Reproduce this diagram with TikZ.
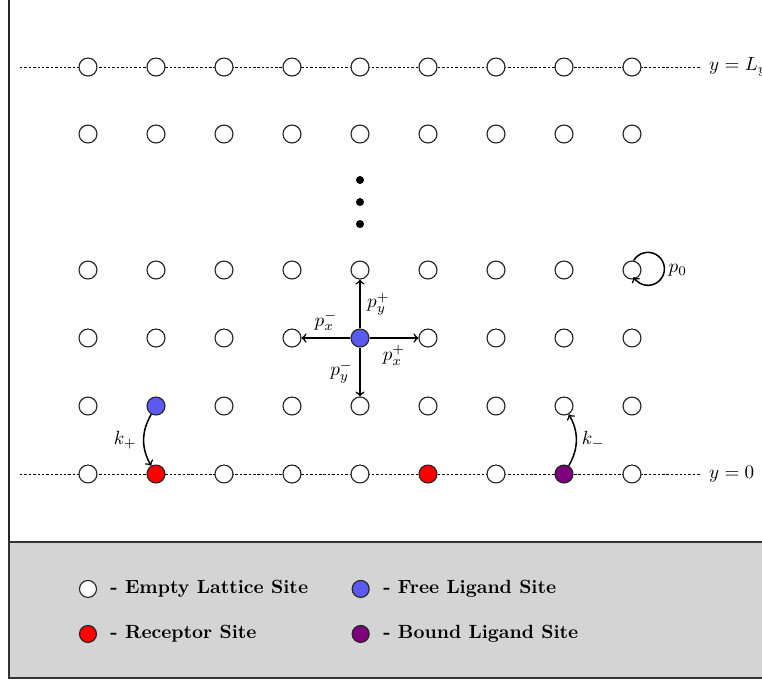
\documentclass[tikz,border=0pt]{standalone}
\usetikzlibrary{calc}
\definecolor{ligand}{RGB}{90,90,240}
\definecolor{bound}{RGB}{125,0,125}
\definecolor{legendgray}{RGB}{212,212,212}
\begin{document}
\begin{tikzpicture}[x=1.25cm,y=1.25cm,
  site/.style={circle, draw=black!85, line width=0.6pt, fill=white,
    minimum size=9.4pt, inner sep=0pt},
  free/.style={fill=ligand},
  receptor/.style={fill=red},
  boundsite/.style={fill=bound},
  % special lattice sites
  at-1-1/.style={free},
  at-4-2/.style={free},
  at-1-0/.style={receptor},
  at-5-0/.style={receptor},
  at-7-0/.style={boundsite},
  dotmark/.style={circle, fill=black, minimum size=4.2pt, inner sep=0pt},
  boundary/.style={line width=0.5pt, dash pattern=on 1.3pt off 1pt},
  move/.style={->, thick},
  legendtext/.style={anchor=west, font=\bfseries}]

\useasboundingbox (-1.294,-3.044) rectangle (9.912,6.971);
\clip (-1.294,-3.044) rectangle (9.912,6.971);

% outer frame and legend panel
\draw[line width=1.2pt, draw=black!85, fill=white] (-1.162,-3) rectangle (11,8);
\draw[line width=1pt, draw=black!80, fill=legendgray] (-1.162,-3) rectangle (11,-1);

% boundaries y = 0 and y = L_y
\coordinate (lo-l) at (-1,0);
\coordinate (lo-r) at (9,0);
\coordinate (hi-l) at (-1,5.985);
\coordinate (hi-r) at (9,5.985);
\draw[boundary] (lo-l) -- (lo-r);
\draw[boundary] (hi-l) -- (hi-r);
\node[anchor=west, inner sep=0pt] (lab-lo) at ($(lo-r)+(0.13,0)$) {$y = 0$};
\node[anchor=west, inner sep=0pt] (lab-hi) at ($(hi-r)+(0.13,0)$) {$y = L_y$};

% lattice sites
\foreach \i in {0,...,8}
  \foreach \j in {0,1,2,3,5}
    \node[site, at-\i-\j/.try] (s-\i-\j) at (\i,\j) {};
\foreach \i in {0,...,8}
  \node[site] (s-\i-6) at (\i,5.985) {};

% vertical ellipsis
\node[dotmark] (d1) at (4,4.324) {};
\node[dotmark] (d2) at (4,4.0) {};
\node[dotmark] (d3) at (4,3.676) {};

% hopping of a free ligand
\draw[move] (s-4-2) -- node[right]{$p_y^+$} (s-4-3);
\draw[move] (s-4-2) -- node[above]{$p_x^-$} (s-3-2);
\draw[move] (s-4-2) -- node[below]{$p_x^+$} (s-5-2);
\draw[move] (s-4-2) -- node[left]{$p_y^-$} (s-4-1);

% staying put: a round loop leaving the top of the site and returning below
\draw[move] (s-8-3.80) arc[start angle=150, end angle=-150, radius=0.303cm];
\node[anchor=west, inner sep=2pt] (lab-p0) at (8.478,3) {$p_0$};

% binding and unbinding
\draw[move] (s-1-1) to[bend right=30] node[left]{$k_+$} (s-1-0);
\draw[move] (s-7-0) to[bend right=30] node[right, inner sep=2.5pt]{$k_-$} (s-7-1);

% legend
\node[site, minimum size=8.9pt] (key-empty) at (0,-1.69) {};
\node[legendtext] (txt-empty) at (0.23,-1.69) {- Empty Lattice Site};
\node[site, receptor, minimum size=8.9pt] (key-rec) at (0,-2.352) {};
\node[legendtext] (txt-rec) at (0.23,-2.352) {- Receptor Site};
\node[site, free, minimum size=8.9pt] (key-free) at (4.01,-1.69) {};
\node[legendtext] (txt-free) at (4.244,-1.69) {- Free Ligand Site};
\node[site, boundsite, minimum size=8.9pt] (key-bound) at (4.01,-2.352) {};
\node[legendtext] (txt-bound) at (4.244,-2.352) {- Bound Ligand Site};
\end{tikzpicture}
\end{document}
